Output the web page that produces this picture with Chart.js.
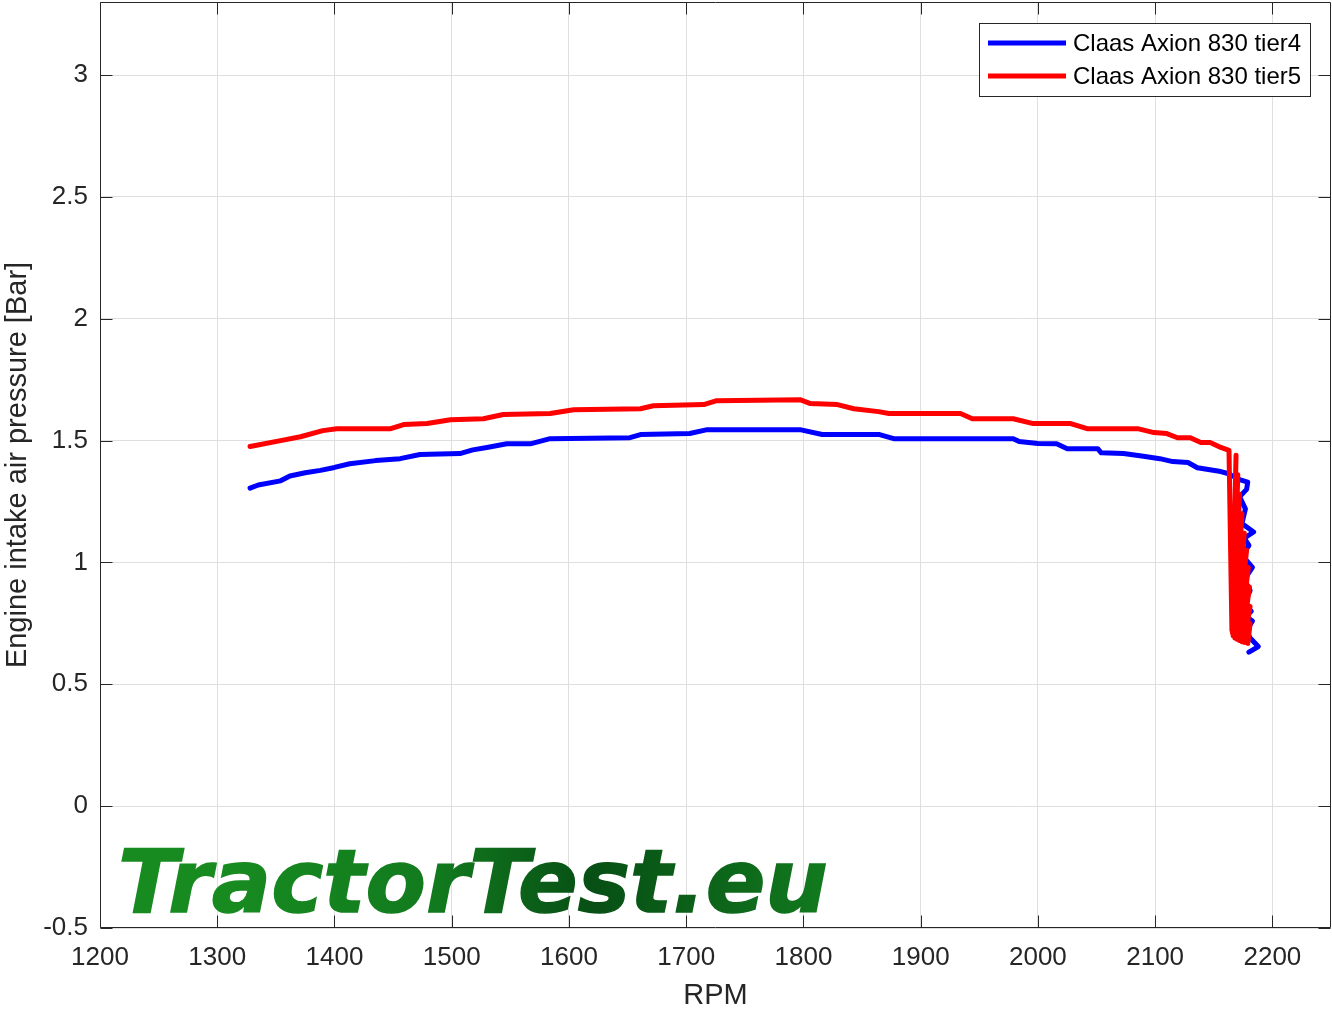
<!DOCTYPE html>
<html>
<head>
<meta charset="utf-8">
<script src="https://cdn.jsdelivr.net/npm/chart.js@4.4.1/dist/chart.umd.min.js"></script>
<style>
  html,body{margin:0;padding:0;background:#fff}
  #wrap{width:1332px;height:1010px}
</style>
</head>
<body>
<div id="wrap"><canvas id="chPressure" width="1332" height="1010"></canvas></div>
<script>
/* Engine intake air pressure vs RPM, tier4 vs tier5 */
var seriesNames = ['Claas Axion 830 tier4', 'Claas Axion 830 tier5'];
var seriesColors = ['#0000ff', '#ff0000'];

var tier4Rpm = [1328,1335,1354,1362,1375,1388,1400,1413,1435,1456,1473,1507,1518,1530,1547,1567,1584,1652,1661,1703,1718,1797,1816,1865,1877,1979,1984,2000,2016,2025,2051,2054,2073,2090,2104,2115,2128,2136,2156,2162,2170,
  2172,2179,2178,2172,2177,2174,2184,2176,2180,2174,2183,2176,2181,2176,2182,2177,2183,2178,2181,2188,2180];
var tier4Bar = [1.305,1.318,1.335,1.355,1.368,1.378,1.390,1.405,1.418,1.426,1.443,1.447,1.462,1.472,1.487,1.487,1.508,1.512,1.525,1.529,1.545,1.545,1.525,1.525,1.508,1.508,1.496,1.488,1.487,1.467,1.467,1.450,1.447,1.436,1.426,1.414,1.410,1.389,1.373,1.365,1.345,
  1.340,1.330,1.300,1.270,1.220,1.160,1.125,1.100,1.070,1.030,0.980,0.930,0.885,0.830,0.800,0.780,0.760,0.720,0.690,0.655,0.632];

var tier5Rpm = [1328,1354,1371,1390,1402,1448,1459,1479,1499,1527,1544,1584,1604,1661,1672,1715,1726,1797,1806,1829,1843,1864,1873,1934,1944,1979,1996,2028,2042,2085,2099,2110,2119,2130,2139,2147,2156,2163,
  2165.5,2169,2166,2170.5,2166.5,2172,2167,2174,2168,2176,2169,2178,2170,2179.5,2172,2180.5,2174,2181,2176,2181,2179];
var tier5Bar = [1.476,1.500,1.516,1.541,1.549,1.549,1.566,1.570,1.586,1.590,1.607,1.611,1.627,1.631,1.643,1.648,1.664,1.668,1.652,1.648,1.631,1.619,1.611,1.611,1.590,1.590,1.570,1.570,1.549,1.549,1.533,1.529,1.512,1.512,1.492,1.492,1.472,1.460,
  0.720,1.440,0.710,1.360,0.700,1.280,0.700,1.200,0.690,1.120,0.690,1.050,0.685,0.980,0.680,0.900,0.675,0.820,0.672,0.750,0.668];

var xTicks = [1200,1300,1400,1500,1600,1700,1800,1900,2000,2100,2200];
var yTicks = [-0.5,0,0.5,1,1.5,2,2.5,3];
var xRange = [1200, 2250];
var yRange = [-0.5, 3.3];

var INK = '#262626';
var GRID = '#dfdfdf';
var FONT = '"Liberation Sans", Arial, Helvetica, sans-serif';

function pairs(xs, ys){ var out=[]; for(var i=0;i<xs.length;i++) out.push({x:xs[i], y:ys[i]}); return out; }
function fixTicks(list){ return function(s){ s.ticks = list.map(function(v){ return {value:v}; }); }; }

// box, inward ticks, watermark and legend, drawn over the data like the original figure
var axesDecor = {
  id: 'axesDecor',
  afterDatasetsDraw: function(chart){
    var ctx = chart.ctx, a = chart.chartArea, xs = chart.scales.x, ys = chart.scales.y;
    var L = Math.round(a.left)+0.5, R = Math.round(a.right)-0.5, T = Math.round(a.top)+0.5, B = Math.round(a.bottom)-0.5;
    var tl = 12;

    // watermark
    ctx.save();
    var txt = 'TractorTest.eu';
    ctx.font = 'italic bold 88px "DejaVu Sans", sans-serif';
    var w = ctx.measureText(txt).width;
    var x0 = 118, x1 = 828, base = 912;
    var g = ctx.createLinearGradient(x0, 0, x1, 0);
    g.addColorStop(0, '#178a20'); g.addColorStop(0.28, '#127a1e');
    g.addColorStop(0.5, '#074f15'); g.addColorStop(0.72, '#0e6a1b'); g.addColorStop(1, '#179222');
    ctx.translate(x0, base); ctx.scale((x1-x0)/w, 1);
    ctx.fillStyle = g; ctx.strokeStyle = g; ctx.lineWidth = 1.5;
    ctx.textBaseline = 'alphabetic'; ctx.textAlign = 'left';
    ctx.fillText(txt, 0, 0); ctx.strokeText(txt, 0, 0);
    ctx.restore();

    // box and ticks
    ctx.save();
    ctx.strokeStyle = INK; ctx.lineWidth = 1;
    ctx.beginPath();
    ctx.rect(L, T, R-L, B-T);
    xTicks.forEach(function(v){
      var p = Math.round(xs.getPixelForValue(v))+0.5;
      ctx.moveTo(p, B); ctx.lineTo(p, B-tl);
      ctx.moveTo(p, T); ctx.lineTo(p, T+tl);
    });
    yTicks.forEach(function(v){
      var p = Math.round(ys.getPixelForValue(v))+0.5;
      ctx.moveTo(L, p); ctx.lineTo(L+tl, p);
      ctx.moveTo(R, p); ctx.lineTo(R-tl, p);
    });
    ctx.stroke();

    // legend
    var bx = 979.5, by = 23.5, bw = 331, bh = 73;
    ctx.fillStyle = '#fff'; ctx.fillRect(bx, by, bw, bh);
    ctx.strokeRect(bx, by, bw, bh);
    ctx.font = '24px ' + FONT; ctx.textBaseline = 'middle'; ctx.textAlign = 'left';
    seriesNames.forEach(function(n, i){
      var yy = 43 + i*33;
      ctx.strokeStyle = seriesColors[i]; ctx.lineWidth = 5;
      ctx.beginPath(); ctx.moveTo(988, yy); ctx.lineTo(1066, yy); ctx.stroke();
      ctx.fillStyle = '#000'; ctx.fillText(n, 1073, yy+1);
    });
    ctx.restore();
  }
};

new Chart(document.getElementById('chPressure').getContext('2d'), {
  type: 'scatter',
  data: {
    datasets: [
      {label:seriesNames[0], data:pairs(tier4Rpm, tier4Bar), showLine:true, borderColor:seriesColors[0], backgroundColor:seriesColors[0],
        borderWidth:5, pointRadius:0, tension:0, borderJoinStyle:'round', borderCapStyle:'round', order:1},
      {label:seriesNames[1], data:pairs(tier5Rpm, tier5Bar), showLine:true, borderColor:seriesColors[1], backgroundColor:seriesColors[1],
        borderWidth:5, pointRadius:0, tension:0, borderJoinStyle:'round', borderCapStyle:'round', order:0}
    ]
  },
  options: {
    responsive:false, animation:false, devicePixelRatio:1,
    layout:{ padding:{ top:2, right:1, left:0, bottom:0 } },
    plugins:{ legend:{display:false}, tooltip:{enabled:false} },
    scales:{
      x:{ type:'linear', min:xRange[0], max:xRange[1],
        afterBuildTicks:fixTicks(xTicks),
        afterFit:function(s){ s.height = 82; s.paddingLeft = 0; s.paddingRight = 0; },
        grid:{ color:GRID, lineWidth:1, drawTicks:false },
        border:{ display:false },
        ticks:{ color:INK, font:{family:FONT, size:26}, padding:14, maxRotation:0, autoSkip:false,
          callback:function(v){ return String(v); } },
        title:{ display:true, text:'RPM', color:INK, font:{family:FONT, size:29}, padding:{top:0, bottom:-3} }
      },
      y:{ type:'linear', min:yRange[0], max:yRange[1],
        afterBuildTicks:fixTicks(yTicks),
        afterFit:function(s){ s.width = 100; s.paddingTop = 0; s.paddingBottom = 0; },
        grid:{ color:GRID, lineWidth:1, drawTicks:false },
        border:{ display:false },
        ticks:{ color:INK, font:{family:FONT, size:26}, padding:12, autoSkip:false,
          callback:function(v){ return String(v); } },
        title:{ display:true, text:'Engine intake air pressure [Bar]', color:INK, font:{family:FONT, size:29}, padding:{top:1, bottom:0} }
      }
    }
  },
  plugins:[axesDecor]
});
</script>
</body>
</html>
